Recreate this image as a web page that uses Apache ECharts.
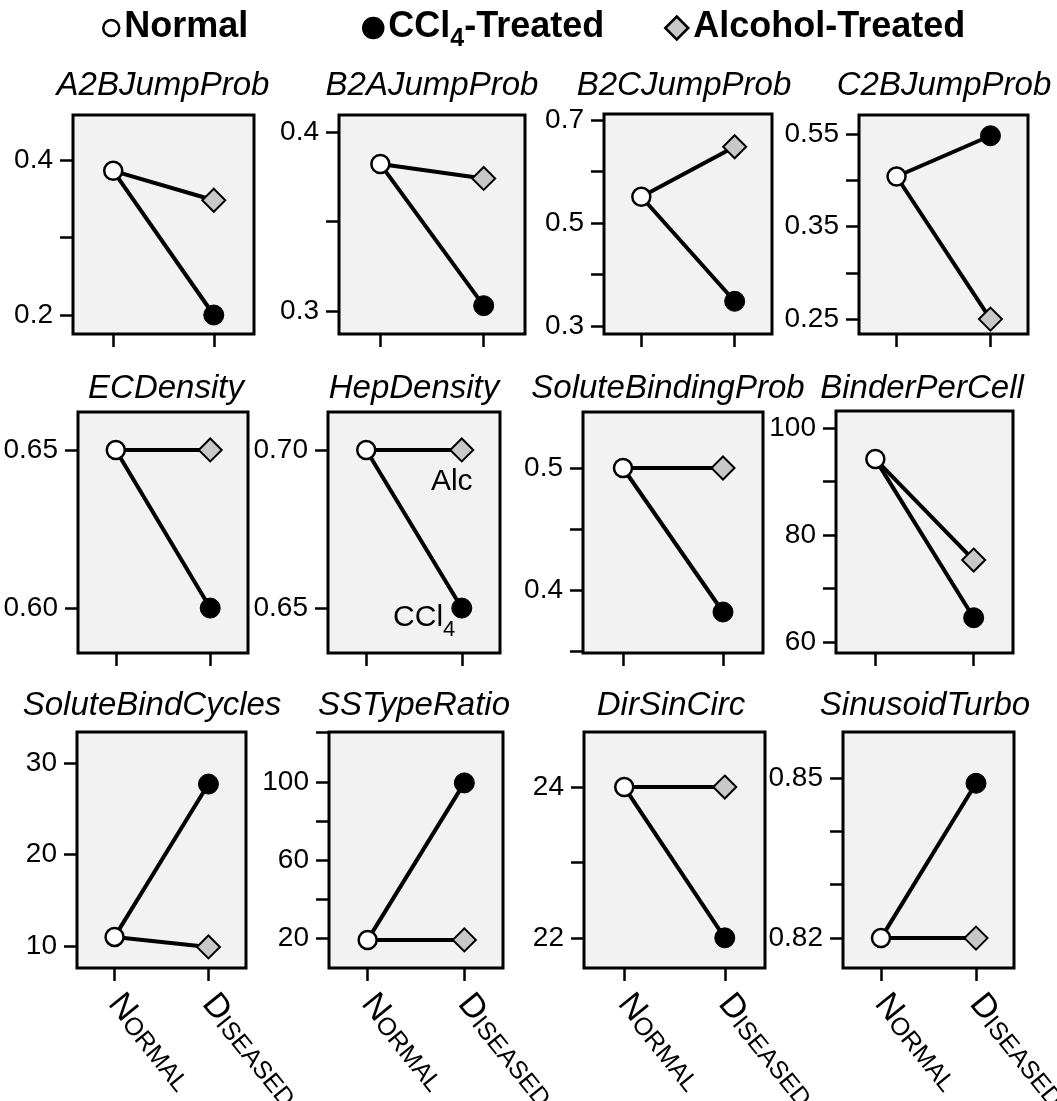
<!DOCTYPE html>
<html><head><meta charset="utf-8">
<script src="https://cdn.jsdelivr.net/npm/echarts@6/dist/echarts.min.js"></script>
<style>html,body{margin:0;padding:0;background:#fff}#c{width:1057px;height:1101px}</style>
</head><body><div id="c"></div>
<script>
// ---------- DATA ----------
const categories = ['Normal', 'Diseased'];
const seriesNames = ['Normal', 'CCl4-Treated', 'Alcohol-Treated'];
const panelTitles = ['A2BJumpProb', 'B2AJumpProb', 'B2CJumpProb', 'C2BJumpProb',
  'ECDensity', 'HepDensity', 'SoluteBindingProb', 'BinderPerCell',
  'SoluteBindCycles', 'SSTypeRatio', 'DirSinCirc', 'SinusoidTurbo'];
const normalValues  = [0.386, 0.382, 0.551, 0.504, 0.65, 0.70, 0.50, 94.2, 11.0, 19, 24, 0.82];
const ccl4Values    = [0.200, 0.303, 0.348, 0.548, 0.60, 0.65, 0.382, 64.5, 27.7, 99.5, 22, 0.849];
const alcoholValues = [0.348, 0.374, 0.648, 0.350, 0.65, 0.70, 0.50, 75.3, 9.9, 19, 24, 0.82];
const yMins = [0.1755, 0.2872, 0.2845, 0.3339, 0.5858, 0.6358, 0.3484, 57.9, 7.6, 4.6, 21.6, 0.8144];
const yMaxs = [0.458, 0.4094, 0.7116, 0.5704, 0.662, 0.712, 0.5459, 103.2, 33.39, 125.6, 24.73, 0.8586];
const yLabelValues = [[0.2, 0.4], [0.3, 0.4], [0.3, 0.5, 0.7], [0.35, 0.45, 0.55], [0.60, 0.65], [0.65, 0.70],
  [0.4, 0.5], [60, 80, 100], [10, 20, 30], [20, 60, 100], [22, 24], [0.82, 0.85]];
const yTickLabels = [['0.2', '0.4'], ['0.3', '0.4'], ['0.3', '0.5', '0.7'], ['0.25', '0.35', '0.55'], ['0.60', '0.65'], ['0.65', '0.70'],
  ['0.4', '0.5'], ['60', '80', '100'], ['10', '20', '30'], ['20', '60', '100'], ['22', '24'], ['0.82', '0.85']];
const yMinorTicks = [[0.3], [0.35], [0.4, 0.6], [0.40, 0.50], [], [], [0.35, 0.45], [70, 90], [], [40, 80, 125.6], [23], [0.83, 0.84]];
const annotations = { panel: 5, alc: 'Alc', ccl4: 'CCl4' };

// ---------- LAYOUT ----------
const gridRects = [
  [73, 115, 181, 219], [339, 115, 186, 219], [604, 114, 168, 220], [859, 115, 169, 219],
  [78, 412, 170, 241], [328, 412, 172, 241], [583, 412, 180, 241], [836, 411, 177, 242],
  [77, 732, 169, 236], [329, 732, 174, 236], [584, 732, 181, 236], [843, 732, 171, 236]
];
const titleCenters = [163, 432, 684, 944, 166, 414, 668, 922, 152, 414, 671, 925];
const titleTops = [69.5, 372.5, 689.5];
const FONT = '"Liberation Sans", Arial, Helvetica, sans-serif';

const grids = [], xAxes = [], yAxes = [], series = [], titles = [];
gridRects.forEach((r, i) => {
  const row = Math.floor(i / 4);
  grids.push({ left: r[0], top: r[1], width: r[2], height: r[3], show: true,
    containLabel: false, outerBoundsMode: 'none',
    backgroundColor: '#f2f2f2', borderColor: '#000', borderWidth: 3 });
  titles.push({ text: panelTitles[i], left: titleCenters[i], top: titleTops[row], textAlign: 'center', padding: 0,
    textStyle: { fontFamily: FONT, fontStyle: 'italic', fontWeight: 'normal', fontSize: 33, lineHeight: 33, color: '#000' } });
  xAxes.push({ type: 'value', gridIndex: i, min: -0.4, max: 1.4, position: 'bottom',
    axisLine: { show: false, onZero: false }, splitLine: { show: false },
    axisTick: { show: true, length: 13, customValues: [0, 1], lineStyle: { color: '#000', width: 2.5 } },
    axisLabel: { show: row === 2, customValues: [0, 1], rotate: -51, margin: 30,
      formatter: v => { const n = categories[Math.round(v)].toUpperCase(); return '{c|' + n[0] + '}{s|' + n.slice(1) + '}'; },
      rich: { c: { fontFamily: FONT, fontSize: 34, color: '#000', verticalAlign: 'bottom' },
              s: { fontFamily: FONT, fontSize: 25, color: '#000', verticalAlign: 'bottom' } } } });
  const majors = yLabelValues[i];
  yAxes.push({ type: 'value', gridIndex: i, min: yMins[i], max: yMaxs[i], position: 'left',
    axisLine: { show: false, onZero: false }, splitLine: { show: false },
    axisTick: { show: true, length: 13, customValues: majors.concat(yMinorTicks[i]), lineStyle: { color: '#000', width: 2.5 } },
    axisLabel: { show: true, customValues: majors, margin: 20, fontFamily: FONT, fontSize: 28, color: '#000',
      formatter: v => { let k = 0; majors.forEach((m, j) => { if (Math.abs(m - v) < Math.abs(majors[k] - v)) k = j; }); return yTickLabels[i][k]; } } });
  const isAnn = i === annotations.panel;
  const hidden = { symbol: 'none', symbolSize: 0, itemStyle: { borderWidth: 0, opacity: 0 } };
  series.push({ type: 'line', name: seriesNames[2], xAxisIndex: i, yAxisIndex: i, z: 2,
    symbol: 'diamond', symbolSize: 23,
    itemStyle: { color: '#c8c8c8', borderColor: '#000', borderWidth: 2 },
    lineStyle: { color: '#000', width: 4 },
    data: [Object.assign({ value: [0, normalValues[i]] }, hidden),
      { value: [1, alcoholValues[i]],
        label: isAnn ? { show: true, position: 'bottom', distance: 4, offset: [-10, 0], formatter: annotations.alc,
          fontFamily: FONT, fontSize: 30, color: '#000' } : { show: false } }] });
  series.push({ type: 'line', name: seriesNames[1], xAxisIndex: i, yAxisIndex: i, z: 3,
    symbol: 'circle', symbolSize: 20,
    itemStyle: { color: '#000', borderColor: '#000', borderWidth: 1 },
    lineStyle: { color: '#000', width: 4 },
    data: [Object.assign({ value: [0, normalValues[i]] }, hidden),
      { value: [1, ccl4Values[i]],
        label: isAnn ? { show: true, position: 'left', distance: 2, offset: [6, 10],
          formatter: '{m|' + annotations.ccl4.slice(0, 3) + '}{sub|' + annotations.ccl4.slice(3) + '}',
          rich: { m: { fontFamily: FONT, fontSize: 30, color: '#000', lineHeight: 31, verticalAlign: 'top' },
                  sub: { fontFamily: FONT, fontSize: 22, color: '#000', lineHeight: 22, padding: [16, 0, 0, 0], verticalAlign: 'top' } } } : { show: false } }] });
  series.push({ type: 'scatter', name: seriesNames[0], xAxisIndex: i, yAxisIndex: i, z: 10,
    symbol: 'circle', symbolSize: 18,
    itemStyle: { color: '#ffffff', borderColor: '#000', borderWidth: 2.5, opacity: 1 },
    data: [[0, normalValues[i]]] });
});

const legRich = {
  b: { fontFamily: FONT, fontWeight: 'bold', fontSize: 36, color: '#000', lineHeight: 38, verticalAlign: 'top' },
  sub: { fontFamily: FONT, fontWeight: 'bold', fontSize: 25, color: '#000', lineHeight: 25, padding: [18, 0, 0, 0], verticalAlign: 'top' }
};
const legFmt = name => name === 'CCl4-Treated' ? '{b|CCl}{sub|4}{b|-Treated}' : '{b|' + name + '}';
function mkLegend(name, left, size, icon) {
  return { data: [{ name: name, icon: icon }], left: left, top: 9, padding: 0, itemWidth: size, itemHeight: size,
    selectedMode: false, formatter: legFmt,
    itemStyle: { borderColor: '#000', borderWidth: 2.5 },
    textStyle: { rich: legRich } };
}

const chart = echarts.init(document.getElementById('c'), null, { renderer: 'canvas' });
chart.setOption({
  animation: false,
  backgroundColor: '#fff',
  title: titles,
  legend: [mkLegend('Normal', 102, 16, 'circle'), mkLegend('CCl4-Treated', 362, 20, 'circle'), mkLegend('Alcohol-Treated', 664, 23, 'diamond')],
  grid: grids, xAxis: xAxes, yAxis: yAxes, series: series
});
</script></body></html>
